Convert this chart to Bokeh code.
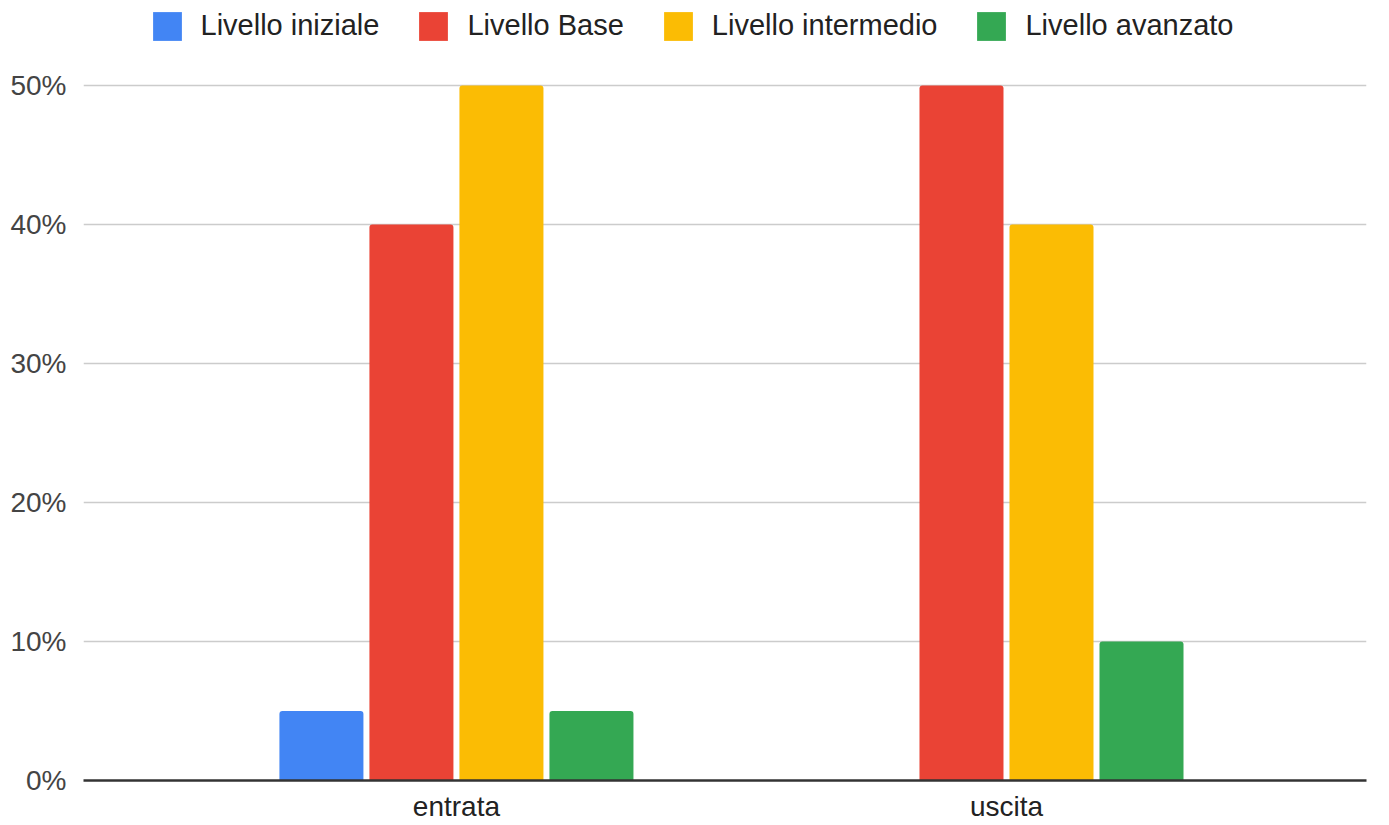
from bokeh.plotting import figure
from bokeh.models import FixedTicker, NumeralTickFormatter, Range1d, ColumnDataSource
from bokeh.embed import file_html
from bokeh.resources import INLINE

categories = ["entrata", "uscita"]
series_names = ["Livello iniziale", "Livello Base", "Livello intermedio", "Livello avanzato"]
livello_iniziale = [0.05, 0.0]
livello_base = [0.40, 0.50]
livello_intermedio = [0.50, 0.40]
livello_avanzato = [0.05, 0.10]
y_ticks = [0, 0.1, 0.2, 0.3, 0.4, 0.5]

series_values = [livello_iniziale, livello_base, livello_intermedio, livello_avanzato]
colors = ["#4285F4", "#EA4335", "#FBBC04", "#34A853"]

FONT = "Liberation Sans"
TEXT = "#222222"

# frame spans the full height down to the baseline; the top part holds the legend
p = figure(width=1389, height=825, output_backend="svg", toolbar_location=None,
           x_range=Range1d(-0.678, 1.6545), y_range=Range1d(0, 780 / 1390),
           min_border_left=83, min_border_right=23, min_border_top=0, min_border_bottom=45)
p.outline_line_color = None
p.background_fill_color = "white"

step = 90 / 550
bw = 84 / 550
for j, (name, vals, c) in enumerate(zip(series_names, series_values, colors)):
    xs = [i + (j - 1.5) * step for i in range(len(categories))]
    src = ColumnDataSource(dict(x=xs, top=vals))
    p.vbar(x="x", top="top", bottom=0, width=bw, source=src, fill_color=c,
           line_color=None, border_radius=(3, 3, 0, 0), legend_label=name)

p.xgrid.grid_line_color = None
p.ygrid.grid_line_color = "#cccccc"
p.ygrid.grid_line_width = 1.5
p.ygrid.ticker = FixedTicker(ticks=y_ticks)

p.yaxis.ticker = FixedTicker(ticks=y_ticks)
p.yaxis.formatter = NumeralTickFormatter(format="0%")
p.yaxis.axis_line_color = None
p.yaxis.major_tick_line_color = None
p.yaxis.minor_tick_line_color = None
p.yaxis.major_tick_out = 0
p.yaxis.minor_tick_out = 0
p.yaxis.major_label_standoff = 17
p.yaxis.major_label_text_font = FONT
p.yaxis.major_label_text_font_size = "28px"
p.yaxis.major_label_text_color = "#444444"

p.xaxis.ticker = FixedTicker(ticks=list(range(len(categories))))
p.xaxis.major_label_overrides = {i: c for i, c in enumerate(categories)}
p.xaxis.axis_line_color = "#333333"
p.xaxis.axis_line_width = 2.5
p.xaxis.major_tick_line_color = None
p.xaxis.minor_tick_line_color = None
p.xaxis.major_tick_out = 0
p.xaxis.minor_tick_out = 0
p.xaxis.major_label_standoff = 10
p.xaxis.major_label_text_font = FONT
p.xaxis.major_label_text_font_size = "28px"
p.xaxis.major_label_text_color = TEXT

lg = p.legend[0]
lg.orientation = "horizontal"
lg.location = (65.5, 736.5)
lg.padding = 0
lg.margin = 0
lg.spacing = 36
lg.label_standoff = 16
lg.glyph_width = 36
lg.glyph_height = 36
lg.border_line_color = None
lg.background_fill_alpha = 0
lg.label_text_font = FONT
lg.label_text_font_size = "29px"
lg.label_text_color = TEXT

open("out.html", "w").write(file_html(p, INLINE))
